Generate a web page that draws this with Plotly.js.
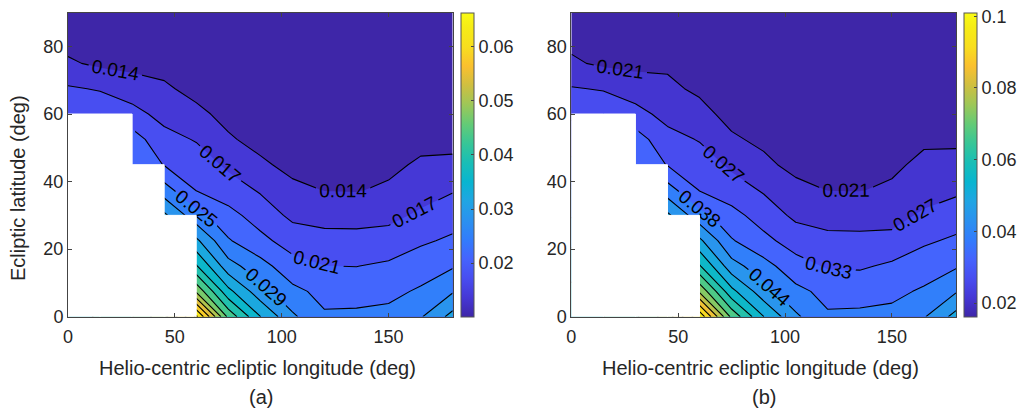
<!DOCTYPE html>
<html><head><meta charset="utf-8">
<script src="https://cdn.plot.ly/plotly-3.0.1.min.js"></script>
<style>html,body{margin:0;padding:0;background:#fff;}#chart{width:1021px;height:413px;}</style>
</head><body><div id="chart"></div>
<script>
// ---- data ----
const lon = [0,15,30,45,60,75,90,105,120,135,150,165,180];
const lat = [0,7.5,15,22.5,30,37.5,45,52.5,60,67.5,75,82.5,90];
const n = null;
// panel (a): rows = lat, cols = lon (null = no data)
const zA = [
 [n,n,n,n,.0663,.0460,.0360,.0292,.0253,.0254,.0258,.0282,.0335],
 [n,n,n,n,.0500,.0370,.0300,.0258,.0238,.0238,.0240,.0253,.0282],
 [n,n,n,n,.0400,.0300,.0262,.0226,.0212,.0211,.0218,.0232,.0245],
 [n,n,n,n,.0330,.0252,.0222,.0195,.0186,.0186,.0188,.0206,.0218],
 [n,n,n,.0330,.0262,.0224,.0195,.0167,.0163,.0162,.0166,.0180,.0195],
 [n,n,n,.0265,.0210,.0192,.0171,.0146,.0137,.0136,.0143,.0161,.0172],
 [n,n,.0245,.0210,.0195,.0168,.0144,.0128,.0122,.0121,.0130,.0143,.0145],
 [n,n,.0228,.0188,.0172,.0142,.0127,.0118,.0112,.0112,.0118,.0128,.0128],
 [.0205,.0200,.0188,.0162,.0146,.0128,.0116,.0111,.0106,.0106,.0110,.0118,.0118],
 [.0179,.0172,.0155,.0143,.0128,.0117,.0109,.0106,.0103,.0103,.0106,.0112,.0112],
 [.0143,.0131,.0128,.0127,.0117,.0110,.0105,.0104,.0103,.0103,.0104,.0108,.0109],
 [.0124,.0119,.0116,.0114,.0110,.0106,.0103,.0103,.0102,.0102,.0103,.0106,.0107],
 [.0115,.0112,.0110,.0108,.0106,.0104,.0103,.0102,.0102,.0102,.0103,.0105,.0106]
];
// panel (b)
const zB = [
 [n,n,n,n,.1010,.0717,.0559,.0452,.0391,.0393,.0399,.0437,.0520],
 [n,n,n,n,.0779,.0575,.0465,.0399,.0367,.0367,.0371,.0391,.0437],
 [n,n,n,n,.0622,.0465,.0405,.0349,.0320,.0318,.0336,.0358,.0378],
 [n,n,n,n,.0512,.0389,.0342,.0300,.0280,.0280,.0282,.0317,.0336],
 [n,n,n,.0512,.0405,.0345,.0300,.0256,.0250,.0248,.0250,.0276,.0295],
 [n,n,n,.0410,.0323,.0295,.0262,.0223,.0209,.0208,.0218,.0246,.0258],
 [n,n,.0378,.0323,.0300,.0257,.0220,.0197,.0189,.0188,.0200,.0222,.0224],
 [n,n,.0352,.0289,.0264,.0216,.0201,.0184,.0176,.0176,.0184,.0202,.0202],
 [.0316,.0308,.0289,.0248,.0223,.0197,.0182,.0175,.0169,.0169,.0174,.0184,.0184],
 [.0272,.0264,.0237,.0218,.0203,.0183,.0172,.0169,.0165,.0165,.0169,.0176,.0176],
 [.0218,.0201,.0197,.0204,.0183,.0174,.0167,.0166,.0163,.0163,.0166,.0171,.0172],
 [.0196,.0185,.0182,.0179,.0174,.0169,.0165,.0163,.0162,.0162,.0163,.0169,.0170],
 [.0180,.0176,.0174,.0171,.0169,.0166,.0163,.0163,.0162,.0162,.0163,.0167,.0169]
];
const levelStartA = 0.01379, levelSizeA = 0.00369, levelCountA = 15, labeledA = 5;
const levelStartB = 0.021,   levelSizeB = 0.0058,  levelCountB = 14, labeledB = 6;
const cRangeA = [0.0101, 0.0663];
const cRangeB = [0.0162, 0.101];
const cTicksA = [0.02, 0.03, 0.04, 0.05, 0.06];
const cTicksB = [0.02, 0.04, 0.06, 0.08, 0.1];
const xTicks = [0, 50, 100, 150];
const yTicks = [0, 20, 40, 60, 80];
const xTitle = 'Helio-centric ecliptic longitude (deg)';
const yTitle = 'Ecliptic latitude (deg)';
const captions = ['(a)', '(b)'];

// ---- style ----
const FONT = 'Liberation Sans, Arial, Helvetica, sans-serif';
const TXT = '#262626';
const SMOOTH = 0;
// empty levels below the data only raise plotly's label density (more labels per line)
const EMPTY_LEVELS_BELOW = 45;
const PARULA = [
 [0,[62,38,168]],[0.0635,[69,55,213]],[0.127,[72,77,240]],[0.1905,[69,99,253]],
 [0.254,[50,124,252]],[0.3175,[43,145,239]],[0.381,[32,165,227]],[0.444,[8,181,208]],
 [0.508,[25,190,182]],[0.571,[55,198,151]],[0.635,[100,203,118]],[0.698,[157,199,88]],
 [0.762,[207,191,65]],[0.825,[250,192,47]],[0.889,[248,222,30]],[0.952,[246,236,22]],[1,[249,251,21]]
];
function parula(t){
  t = Math.max(0, Math.min(1, t));
  for (let i = 1; i < PARULA.length; i++){
    if (t <= PARULA[i][0]){
      const a = PARULA[i-1], b = PARULA[i], f = (t - a[0]) / (b[0] - a[0]);
      const c = a[1].map((v, k) => Math.round(v + f * (b[1][k] - v)));
      return 'rgb(' + c.join(',') + ')';
    }
  }
  return 'rgb(249,251,21)';
}
const parulaScale = PARULA.map(s => [s[0], 'rgb(' + s[1].join(',') + ')']);
function bandScale(start, size, count, range){
  const out = [];
  for (let k = 0; k <= count; k++){
    const t = k === 0 ? 0 : (start + (k - 1) * size - range[0]) / (range[1] - range[0]);
    out.push([k / count, parula(t)]);
  }
  return out;
}
// white polygon covering every grid cell that touches a missing value
function maskPath(z){
  const xs = [], ys = [];
  for (let i = 0; i < lon.length - 1; i++){
    let top = -1;
    for (let j = 0; j < lat.length - 1; j++){
      const bad = z[j][i] == null || z[j][i+1] == null || z[j+1][i] == null || z[j+1][i+1] == null;
      if (bad) top = j;
    }
    if (top >= 0){
      const x0 = lon[i], x1 = lon[i+1], y0 = lat[0], y1 = lat[top+1];
      xs.push(x0, x1, x1, x0, x0, null); ys.push(y0, y0, y1, y1, y0, null);
    }
  }
  return {x: xs, y: ys};
}
function panel(z, start, size, count, labeled, range, ticks, xa, ya, cbx){
  const end = start + (count - 1) * size;
  const common = {x: lon, y: lat, z: z, xaxis: xa, yaxis: ya, autocontour: false, showscale: false, hoverinfo: 'skip', connectgaps: true};
  const m = maskPath(z);
  return [
    Object.assign({type: 'contour'}, common, {
      contours: {start: start, end: end, size: size, coloring: 'fill', showlines: false},
      line: {width: 0, smoothing: SMOOTH},
      colorscale: bandScale(start, size, count, range)
    }),
    Object.assign({type: 'contour'}, common, {
      contours: {start: start + labeled * size, end: end, size: size, coloring: 'none'},
      line: {color: '#000', width: 1.1, smoothing: SMOOTH}
    }),
    Object.assign({type: 'contour'}, common, {
      contours: {start: start - EMPTY_LEVELS_BELOW * size, end: start + (labeled - 1) * size, size: size, coloring: 'none',
                 showlabels: true, labelformat: '.2~g', labelfont: {family: FONT, size: 19, color: '#000'}},
      line: {color: '#000', width: 1.1, smoothing: SMOOTH}
    }),
    {type: 'scatter', mode: 'lines', x: m.x, y: m.y, xaxis: xa, yaxis: ya, fill: 'toself',
     fillcolor: '#ffffff', line: {color: '#ffffff', width: 1}, hoverinfo: 'skip', showlegend: false},
    {type: 'scatter', mode: 'markers', x: [null], y: [null], xaxis: xa, yaxis: ya, hoverinfo: 'skip', showlegend: false,
     marker: {color: range, cmin: range[0], cmax: range[1], colorscale: parulaScale, showscale: true,
       colorbar: {x: cbx, xanchor: 'left', xref: 'paper', thickness: 12.5, thicknessmode: 'pixels',
         len: 304 / 413, lenmode: 'fraction', y: 1 - 164.7 / 413, yanchor: 'middle', yref: 'paper',
         xpad: 0, ypad: 0, outlinewidth: 1, outlinecolor: '#555', ticks: 'inside', ticklen: 3,
         tickcolor: '#444', tickvals: ticks, tickfont: {family: FONT, size: 18, color: TXT}}}}
  ];
}
const data = [].concat(
  panel(zA, levelStartA, levelSizeA, levelCountA, labeledA, cRangeA, cTicksA, 'x', 'y', 460.7 / 1021),
  panel(zB, levelStartB, levelSizeB, levelCountB, labeledB, cRangeB, cTicksB, 'x2', 'y2', 964 / 1021)
);
const yDom = [(413 - 316.7) / 413, (413 - 12.7) / 413];
function xax(dom, anchor){
  return {domain: dom, anchor: anchor, range: [0, 180], tickvals: xTicks, ticks: 'inside', ticklen: 4,
    tickcolor: '#444', showline: true, linecolor: '#444', linewidth: 1, mirror: 'ticks', ticklabelstandoff: 4,
    showgrid: false, zeroline: false, tickfont: {family: FONT, size: 18, color: TXT}};
}
function yax(anchor){
  return {domain: yDom, anchor: anchor, range: [0, 90], tickvals: yTicks, ticks: 'inside', ticklen: 4,
    tickcolor: '#444', showline: true, linecolor: '#444', linewidth: 1, mirror: 'ticks',
    showgrid: false, zeroline: false, tickfont: {family: FONT, size: 18, color: TXT}};
}
const ann = (text, px, py, extra) => Object.assign({text: text, x: px / 1021, y: 1 - py / 413, xref: 'paper', yref: 'paper',
  showarrow: false, xanchor: 'center', yanchor: 'middle', font: {family: FONT, size: 20, color: TXT}}, extra || {});
const layout = {
  width: 1021, height: 413, margin: {l: 0, r: 0, t: 0, b: 0}, paper_bgcolor: '#fff', plot_bgcolor: '#fff',
  showlegend: false, font: {family: FONT, color: TXT},
  xaxis: xax([68 / 1021, 452.7 / 1021], 'y'), yaxis: yax('x'),
  xaxis2: xax([571.3 / 1021, 956 / 1021], 'y2'), yaxis2: yax('x2'),
  annotations: [
    ann(yTitle, 18, 188, {textangle: -90}),
    ann(xTitle, 257, 368), ann(xTitle, 760, 368),
    ann(captions[0], 261, 397), ann(captions[1], 764, 397)
  ]
};
Plotly.newPlot('chart', data, layout, {staticPlot: true, displayModeBar: false});
</script></body></html>
